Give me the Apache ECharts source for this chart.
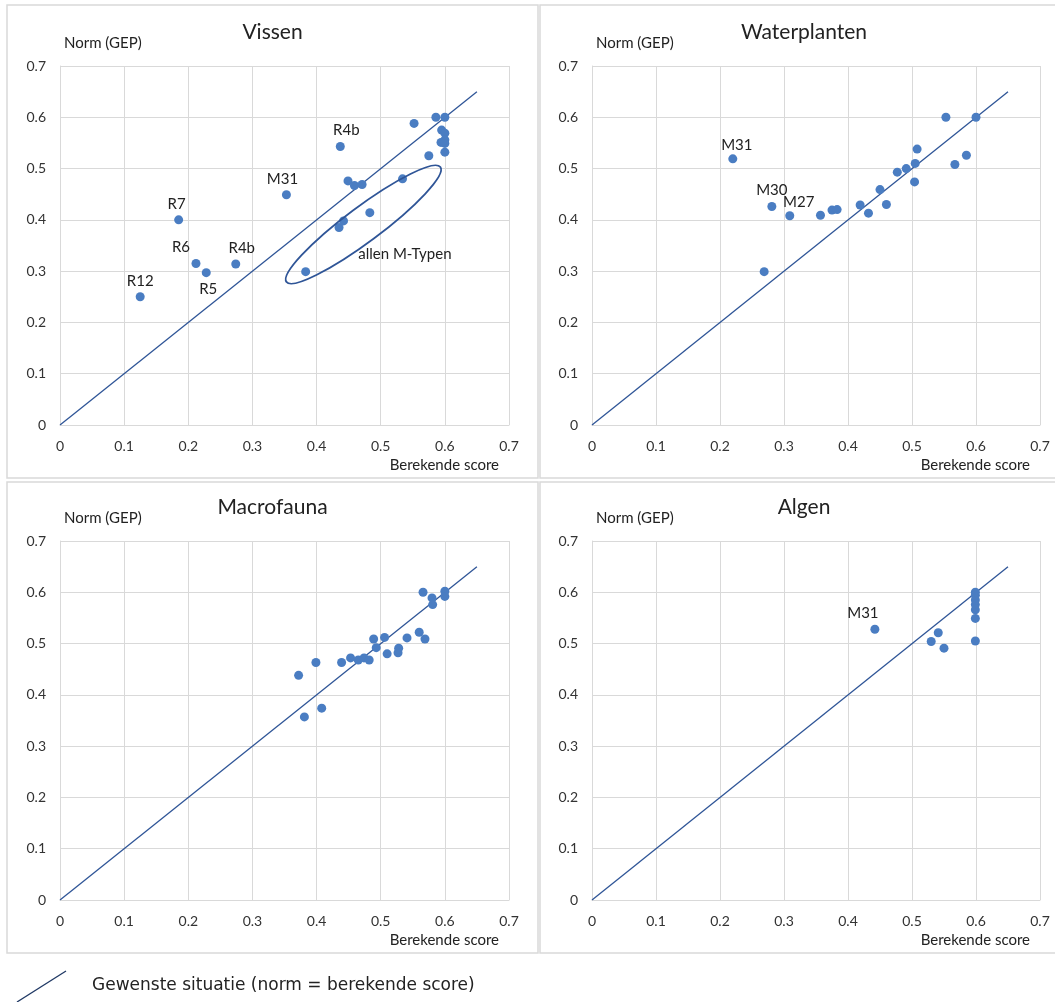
<!DOCTYPE html>
<html><head><meta charset="utf-8">
<script src="https://cdn.jsdelivr.net/npm/echarts@6/dist/echarts.min.js"></script>
<style>html,body{margin:0;padding:0;background:#fff}#c{width:1055px;height:1002px}</style>
</head><body><div id="c"></div>
<script>
// ---- data ----
const axisMin = 0, axisMax = 0.7, axisStep = 0.1;
const diagonalEnds = [0, 0.65];
const panelTitles = ['Vissen', 'Waterplanten', 'Macrofauna', 'Algen'];
const yAxisTitle = 'Norm (GEP)';
const xAxisTitle = 'Berekende score';
const legendText = 'Gewenste situatie (norm = berekende score)';

const vissenScore = [0.125, 0.185, 0.212, 0.228, 0.274, 0.353, 0.437, 0.383, 0.435, 0.442, 0.483, 0.449, 0.459, 0.471, 0.534, 0.552, 0.575, 0.586, 0.600, 0.595, 0.600, 0.600, 0.594, 0.600, 0.600];
const vissenNorm  = [0.250, 0.400, 0.315, 0.297, 0.314, 0.449, 0.543, 0.299, 0.385, 0.398, 0.414, 0.476, 0.467, 0.469, 0.480, 0.588, 0.525, 0.600, 0.600, 0.575, 0.569, 0.556, 0.551, 0.549, 0.532];
const vissenNames = ['R12', 'R7', 'R6', 'R5', 'R4b', 'M31', 'R4b', '', '', '', '', '', '', '', '', '', '', '', '', '', '', '', '', '', ''];

const waterScore = [0.220, 0.281, 0.309, 0.269, 0.357, 0.375, 0.383, 0.419, 0.432, 0.450, 0.460, 0.477, 0.491, 0.505, 0.504, 0.508, 0.553, 0.567, 0.585, 0.600];
const waterNorm  = [0.519, 0.426, 0.408, 0.299, 0.409, 0.419, 0.420, 0.429, 0.413, 0.459, 0.430, 0.493, 0.500, 0.510, 0.474, 0.538, 0.600, 0.508, 0.526, 0.600];
const waterNames = ['M31', 'M30', 'M27', '', '', '', '', '', '', '', '', '', '', '', '', '', '', '', '', ''];

const macroScore = [0.372, 0.399, 0.381, 0.408, 0.439, 0.453, 0.465, 0.474, 0.482, 0.489, 0.493, 0.506, 0.510, 0.528, 0.527, 0.541, 0.560, 0.569, 0.566, 0.580, 0.581, 0.600, 0.600];
const macroNorm  = [0.438, 0.463, 0.357, 0.374, 0.463, 0.472, 0.468, 0.472, 0.468, 0.509, 0.492, 0.512, 0.480, 0.491, 0.482, 0.511, 0.522, 0.509, 0.600, 0.589, 0.576, 0.602, 0.592];
const macroNames = [];

const algenScore = [0.442, 0.530, 0.541, 0.550, 0.599, 0.599, 0.599, 0.599, 0.599, 0.599, 0.599];
const algenNorm  = [0.528, 0.504, 0.521, 0.491, 0.505, 0.549, 0.566, 0.576, 0.585, 0.594, 0.600];
const algenNames = ['M31', '', '', '', '', '', '', '', '', '', ''];

// annotation: ellipse around the M-types in "Vissen" (tips in data units)
const ellipseTips = [[0.353, 0.279], [0.593, 0.503]];
const ellipseLabel = 'allen M-Typen';
const ellipseLabelAt = [0.465, 0.333];

// ---- styles (not data) ----
const FONT = 'Lato';
const DOT = '#4a7dc2';
const LINE = '#2f5597';
const GRID = '#d9d9d9';
const labelOffsets = {
  0: {R12: ['top', [0, 0]], R7: ['top', [-2, 0]], R6: ['top', [-15, 0]], R5: ['bottom', [2, 0]], R4b: ['top', [6, 0]], M31: ['top', [-4, 0]]},
  1: {M31: ['top', [4, 2]], M30: ['top', [0, 0]], M27: ['top', [9, 2]]},
  2: {},
  3: {M31: ['top', [-12, 0]]}
};

const panels = [
  {score: vissenScore, norm: vissenNorm, names: vissenNames},
  {score: waterScore, norm: waterNorm, names: waterNames},
  {score: macroScore, norm: macroNorm, names: macroNames},
  {score: algenScore, norm: algenNorm, names: algenNames}
];
const grids = [
  {left: 60, top: 66, width: 449, height: 359},
  {left: 592, top: 66, width: 448, height: 359},
  {left: 60, top: 541, width: 449, height: 359},
  {left: 592, top: 541, width: 448, height: 359}
];
const boxes = [
  {x: 7, y: 5, w: 531, h: 473},
  {x: 540, y: 5, w: 530, h: 473},
  {x: 7, y: 482, w: 531, h: 471},
  {x: 540, y: 482, w: 530, h: 471}
];

function fmt(v) { return String(+(+v).toFixed(1)); }
function axisCommon(i) {
  return {
    type: 'value', gridIndex: i, min: axisMin, max: axisMax, interval: axisStep,
    axisLine: {show: true, lineStyle: {color: GRID, width: 1}},
    axisTick: {show: false},
    splitLine: {show: true, lineStyle: {color: GRID, width: 1}},
    axisLabel: {fontFamily: FONT, fontSize: 14, color: '#333', margin: 14, formatter: fmt}
  };
}

const series = [];
panels.forEach((p, i) => {
  series.push({
    type: 'line', xAxisIndex: i, yAxisIndex: i, silent: true, showSymbol: false, z: 2,
    lineStyle: {color: LINE, width: 1.3},
    data: [[diagonalEnds[0], diagonalEnds[0]], [diagonalEnds[1], diagonalEnds[1]]]
  });
  series.push({
    type: 'scatter', xAxisIndex: i, yAxisIndex: i, symbolSize: 9, z: 3,
    itemStyle: {color: DOT, opacity: 1},
    data: p.score.map((x, k) => {
      const nm = p.names[k];
      const item = {value: [x, p.norm[k]]};
      if (nm) {
        const pl = labelOffsets[i][nm] || ['top', [0, 0]];
        item.label = {show: true, formatter: nm, position: pl[0], offset: pl[1], distance: 4,
          fontFamily: FONT, fontSize: 15, color: '#222'};
      }
      return item;
    })
  });
});

const graphic = [];
boxes.forEach(b => graphic.push({type: 'rect', shape: {x: b.x, y: b.y, width: b.w, height: b.h},
  style: {fill: null, stroke: GRID, lineWidth: 1.5}, z: -1, silent: true}));
grids.forEach((g, i) => {
  const cx = g.left + g.width / 2 - 12;
  graphic.push({type: 'text', x: cx, y: g.top - 34, style: {text: panelTitles[i], font: '21px ' + FONT, fill: '#222', textAlign: 'center', textVerticalAlign: 'middle'}});
  graphic.push({type: 'text', x: g.left + 4, y: g.top - 23, style: {text: yAxisTitle, font: '15px ' + FONT, fill: '#222', textAlign: 'left', textVerticalAlign: 'middle'}});
  graphic.push({type: 'text', x: g.left + g.width - 10, y: g.top + g.height + 40, style: {text: xAxisTitle, font: '15px ' + FONT, fill: '#222', textAlign: 'right', textVerticalAlign: 'middle'}});
});
graphic.push({type: 'line', shape: {x1: 17, y1: 1002, x2: 66, y2: 971}, style: {stroke: '#1f3864', lineWidth: 1.3}});
graphic.push({type: 'text', x: 92, y: 986, style: {text: legendText, font: '17px "DejaVu Sans"', fill: '#222', textAlign: 'left', textVerticalAlign: 'middle'}});

const chart = echarts.init(document.getElementById('c'), null, {renderer: 'canvas'});
chart.setOption({
  animation: false,
  backgroundColor: '#fff',
  grid: grids,
  xAxis: grids.map((g, i) => axisCommon(i)),
  yAxis: grids.map((g, i) => axisCommon(i)),
  series: series,
  graphic: graphic
});

// ellipse annotation positioned from data values
const a = chart.convertToPixel({gridIndex: 0}, ellipseTips[0]);
const b = chart.convertToPixel({gridIndex: 0}, ellipseTips[1]);
const ecx = (a[0] + b[0]) / 2, ecy = (a[1] + b[1]) / 2;
const rx = Math.hypot(b[0] - a[0], b[1] - a[1]) / 2;
const rot = Math.atan2(a[1] - b[1], b[0] - a[0]);
const lp = chart.convertToPixel({gridIndex: 0}, ellipseLabelAt);
graphic.push({type: 'ellipse', x: ecx, y: ecy, rotation: rot, shape: {cx: 0, cy: 0, rx: rx, ry: 17.5},
  style: {fill: null, stroke: LINE, lineWidth: 1.8}, z: 5});
graphic.push({type: 'text', x: lp[0], y: lp[1], style: {text: ellipseLabel, font: '15px ' + FONT, fill: '#222', textAlign: 'left', textVerticalAlign: 'middle'}, z: 5});
chart.setOption({graphic: graphic});
</script>
</body></html>
